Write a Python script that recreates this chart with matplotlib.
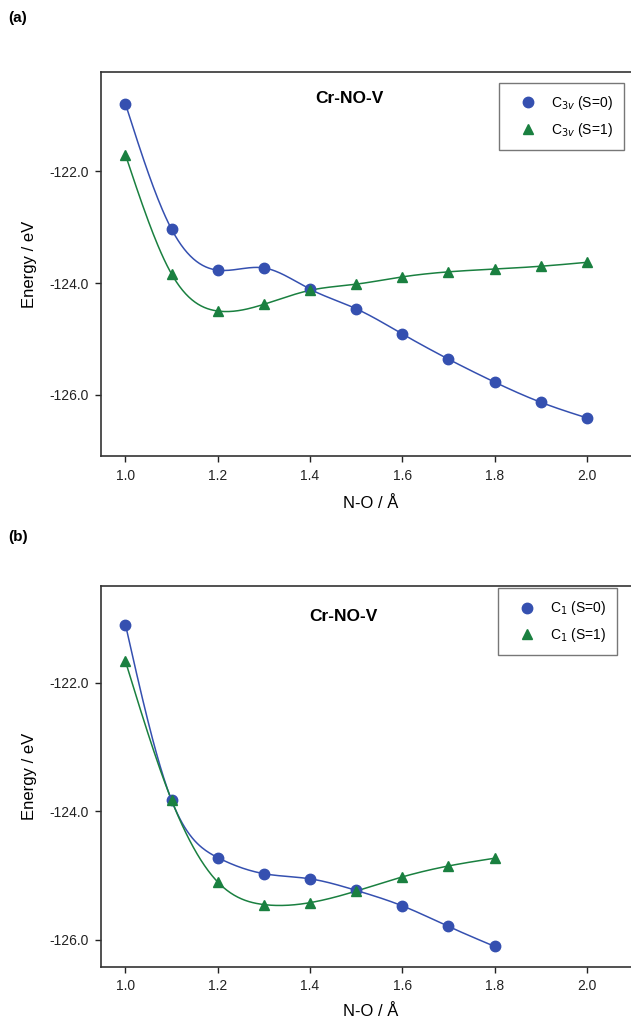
import numpy as np
import matplotlib
matplotlib.use("Agg")
import matplotlib.pyplot as plt

plt.rcParams['font.family'] = ['Liberation Sans', 'DejaVu Sans']

# panel (a): C3v, N-O distance scan
no_a = [1.0, 1.1, 1.2, 1.3, 1.4, 1.5, 1.6, 1.7, 1.8, 1.9, 2.0]
c3v_s0 = [-120.80, -123.04, -123.77, -123.73, -124.11, -124.46, -124.91, -125.36, -125.77, -126.13, -126.41]
c3v_s1 = [-121.71, -123.84, -124.50, -124.38, -124.13, -124.02, -123.89, -123.80, -123.75, -123.70, -123.63]

# panel (b): C1, N-O distance scan
no_b = [1.0, 1.1, 1.2, 1.3, 1.4, 1.5, 1.6, 1.7, 1.8]
c1_s0 = [-121.10, -123.83, -124.72, -124.97, -125.05, -125.23, -125.47, -125.79, -126.10]
c1_s1 = [-121.67, -123.83, -125.10, -125.45, -125.42, -125.24, -125.02, -124.85, -124.73]

x_ticks = [1.0, 1.2, 1.4, 1.6, 1.8, 2.0]
y_ticks = [-122.0, -124.0, -126.0]

BLUE = '#3550b0'
GREEN = '#1a8040'


def natural_spline(x, y, n=300):
    # plain natural cubic spline, like the smoothed connecting line in the figure
    x = np.asarray(x, float)
    y = np.asarray(y, float)
    k = len(x)
    h = np.diff(x)
    A = np.zeros((k, k))
    r = np.zeros(k)
    A[0, 0] = A[-1, -1] = 1.0
    for i in range(1, k - 1):
        A[i, i - 1] = h[i - 1]
        A[i, i] = 2 * (h[i - 1] + h[i])
        A[i, i + 1] = h[i]
        r[i] = 3 * ((y[i + 1] - y[i]) / h[i] - (y[i] - y[i - 1]) / h[i - 1])
    c = np.linalg.solve(A, r)
    xs = np.linspace(x[0], x[-1], n)
    idx = np.clip(np.searchsorted(x, xs) - 1, 0, k - 2)
    dx = xs - x[idx]
    b = (y[1:] - y[:-1]) / h - h * (2 * c[:-1] + c[1:]) / 3
    d = (c[1:] - c[:-1]) / (3 * h)
    ys = y[idx] + b[idx] * dx + c[idx] * dx ** 2 + d[idx] * dx ** 3
    return xs, ys


def draw_panel(ax, x, s0, s1, lab0, lab1, ylim, title_pos, leg_anchor, xlab_y):
    for vals, col, mk, lab in [(s0, BLUE, 'o', lab0), (s1, GREEN, '^', lab1)]:
        xs, ys = natural_spline(x, vals)
        ax.plot(xs, ys, color=col, lw=1.1, zorder=2)
        ax.plot(x, vals, ls='none', marker=mk, ms=7.5, color=col, mec=col, label=lab, zorder=3)
    ax.set_xlim(0.947, 2.115)
    ax.set_ylim(*ylim)
    ax.set_xticks(x_ticks)
    ax.set_xticklabels(['%.1f' % t for t in x_ticks])
    ax.set_yticks(y_ticks)
    ax.set_yticklabels(['%.1f' % t for t in y_ticks])
    ax.tick_params(direction='out', length=4, width=1, labelsize=10, colors='#222222', pad=5)
    for s in ax.spines.values():
        s.set_linewidth(1.2)
        s.set_color('#333333')
    ax.set_xlabel('N-O / Å', fontsize=12)
    ax.set_ylabel('Energy / eV', fontsize=12)
    ax.xaxis.set_label_coords(0.5, xlab_y)
    ax.yaxis.set_label_coords(-0.118, 0.5)
    ax.text(title_pos[0], title_pos[1], 'Cr-NO-V', transform=ax.transAxes,
            fontsize=12.5, fontweight='bold', ha='center', va='center')
    leg = ax.legend(loc='upper right', bbox_to_anchor=leg_anchor, fontsize=10,
                    frameon=True, fancybox=False, edgecolor='#555555', borderaxespad=0,
                    handletextpad=0.35, borderpad=0.8, handlelength=2.6, labelspacing=0.6)
    leg.get_frame().set_linewidth(1.0)


fig = plt.figure(figsize=(6.31, 10.29), dpi=100)
W, H = 631.0, 1029.0

ax_a = fig.add_axes([101 / W, 1 - 456 / H, 539 / W, 384 / H])
draw_panel(ax_a, no_a, c3v_s0, c3v_s1, 'C$_{3v}$ (S=0)', 'C$_{3v}$ (S=1)',
           (-127.09, -120.23), (0.460, 0.93), (0.970, 0.971), -0.105)

ax_b = fig.add_axes([101 / W, 1 - 967 / H, 539 / W, 381 / H])
draw_panel(ax_b, no_b, c1_s0, c1_s1, 'C$_1$ (S=0)', 'C$_1$ (S=1)',
           (-126.42, -120.50), (0.449, 0.919), (0.957, 0.994), -0.097)

fig.text(8 / W, 1 - 18 / H, '(a)', fontsize=11, fontweight='bold', va='center')
fig.text(8 / W, 1 - 537 / H, '(b)', fontsize=11, fontweight='bold', va='center')

fig.savefig('out.png', dpi=100)
